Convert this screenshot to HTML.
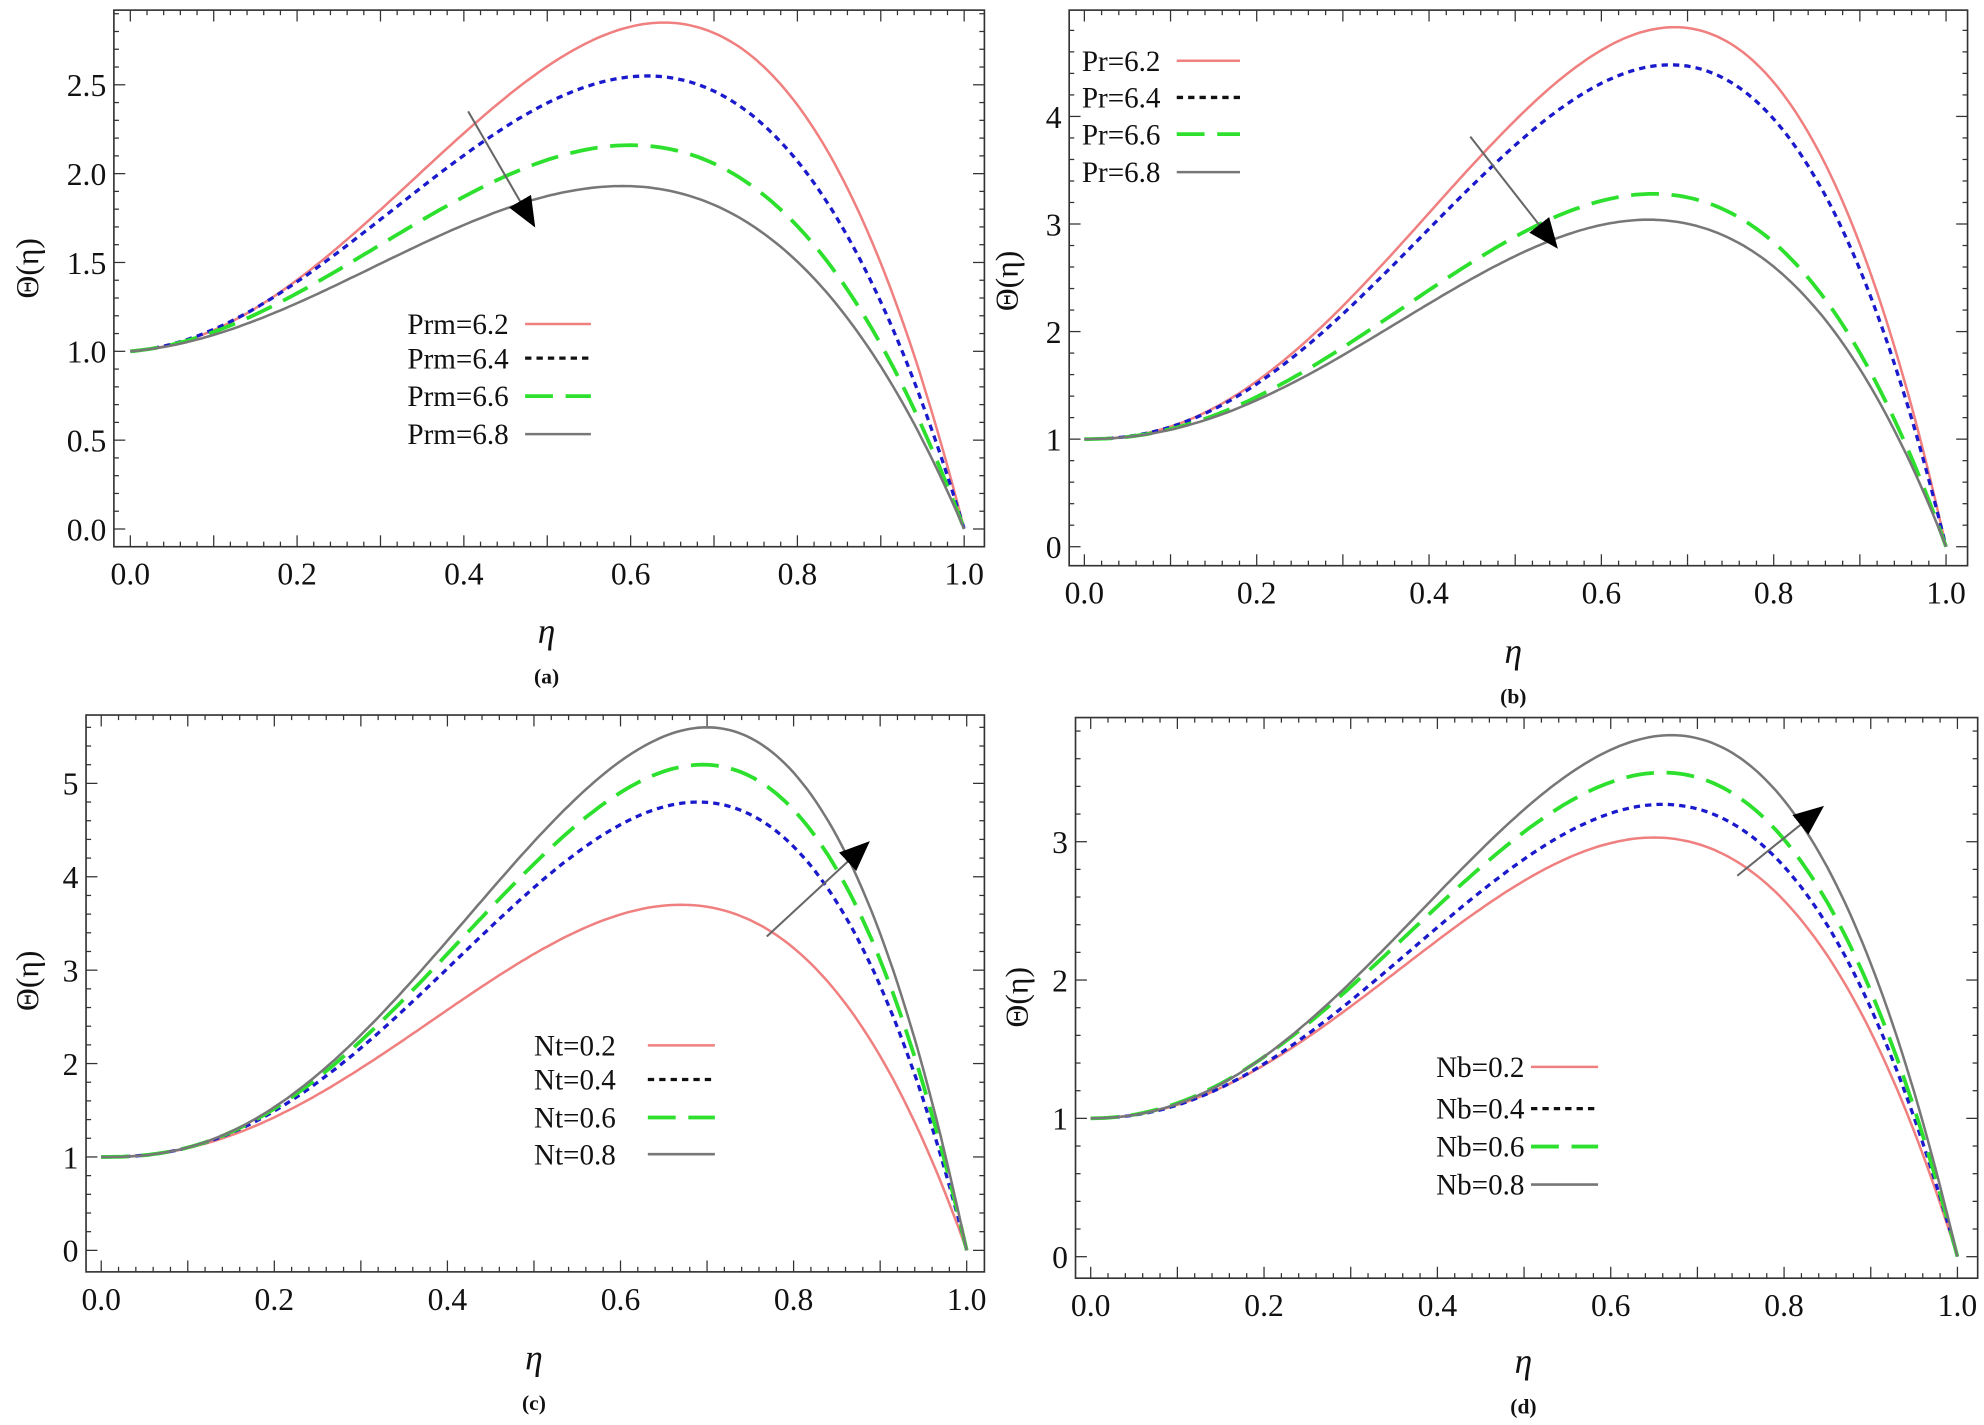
<!DOCTYPE html>
<html><head><meta charset="utf-8"><style>
html,body{margin:0;padding:0;background:#fff;}
svg{display:block;}
text{font-family:"Liberation Serif",serif;fill:#111;}
</style></head><body>
<svg id="s" width="1984" height="1425" viewBox="0 0 1568 1126" preserveAspectRatio="none" xmlns="http://www.w3.org/2000/svg">
<defs>
<marker id="ah2" markerWidth="24" markerHeight="20" refX="22" refY="10" orient="auto" markerUnits="userSpaceOnUse" viewBox="0 0 24 20"><path d="M0,0 L24,10 L0,20 z" fill="#000"/></marker></defs>
<g id="g"></g>
</svg>
<script>
var NS="http://www.w3.org/2000/svg",G=document.getElementById("g");
function el(t,a,txt){var e=document.createElementNS(NS,t);for(var k in a)e.setAttribute(k,a[k]);if(txt!=null)e.textContent=txt;G.appendChild(e);return e;}
function fit(p,v,b){
 function kf(n){var d=n*(1-p)-p;if(d<=0)return null;return (1-b+2*b*p)/(Math.pow(p,n-1)*d);}
 function val(n){var k=kf(n);if(k==null)return 1e9;return (1-p)*(1+b*p+k*Math.pow(p,n));}
 var lo=1.01,hi=40,i,m;
 for(i=0;i<80;i++){m=(lo+hi)/2;if(val(m)>v)lo=m;else hi=m;}
 var n=(lo+hi)/2;
 if(Math.abs(val(n)-v)>0.05){lo=1.01;hi=40;for(i=0;i<80;i++){m=(lo+hi)/2;if(val(m)<v)lo=m;else hi=m;}n=(lo+hi)/2;}
 var k=kf(n);return function(x){return (1-x)*(1+b*x+k*Math.pow(x,n));};}
var styles=[{s:"#f08080",w:2,d:""},{s:"#1a1acc",w:2.6,d:"5,4"},{s:"#2ee02e",w:3,d:"22,10"},{s:"#777",w:2,d:""}];
function panel(P){
 var f=P.frame;el("rect",{x:f[0],y:f[1],width:f[2]-f[0],height:f[3]-f[1],fill:"none",stroke:"#333","stroke-width":1.3});
 var X=function(x){return P.x0+(P.x1-P.x0)*x},Y=function(y){return P.y0-P.ys*y};
 for(var i=0;i<=50;i++){var x=i/50,px=X(x),L=(i%5==0)?9:4;
  el("line",{x1:px,y1:f[3],x2:px,y2:f[3]-L,stroke:"#333","stroke-width":1});
  el("line",{x1:px,y1:f[1],x2:px,y2:f[1]+L,stroke:"#333","stroke-width":1});
  if(i%10==0)el("text",{x:px,y:f[3]+30,"font-size":25,"text-anchor":"middle"},x.toFixed(1));}
 for(var j=0;j<P.yt.length;j++){var yv=P.yt[j],py=Y(yv);
  el("line",{x1:f[0],y1:py,x2:f[0]+9,y2:py,stroke:"#333"});el("line",{x1:f[2],y1:py,x2:f[2]-9,y2:py,stroke:"#333"});
  el("text",{x:f[0]-6,y:py+9,"font-size":25,"text-anchor":"end"},P.yl[j]);
  var step=P.ym;for(var q=1;q<5;q++){var yy=Y(yv+step*q/5);if(yy>f[1]&&yy<f[3]){el("line",{x1:f[0],y1:yy,x2:f[0]+4,y2:yy,stroke:"#333"});el("line",{x1:f[2],y1:yy,x2:f[2]-4,y2:yy,stroke:"#333"});}}}
 el("text",{x:0,y:0,"font-size":25,transform:"translate("+P.lab[0]+","+P.lab[1]+") rotate(-90)","text-anchor":"middle"},"Θ(η)");
 el("text",{x:P.eta[0],y:P.eta[1],"font-size":28,"font-style":"italic","text-anchor":"middle"},"η");
 el("text",{x:P.eta[0],y:P.eta[1]+32,"font-size":17,"font-weight":"bold","text-anchor":"middle"},P.tag);
 for(var c=0;c<4;c++){var fn=fit(P.pk[c][0],P.pk[c][1],P.b),d="";
  for(var t=0;t<=200;t++){var x=t/200;d+=(t?"L":"M")+X(x).toFixed(1)+","+Y(fn(x)).toFixed(1);}
  var st=styles[c];el("path",{d:d,fill:"none",stroke:st.s,"stroke-width":st.w,"stroke-dasharray":st.d});}
 for(c=0;c<4;c++){var ly=P.leg.y[c],st2=styles[c];
  el("text",{x:P.leg.x,y:ly+8,"font-size":23},P.leg.n[c]);
  el("line",{x1:P.leg.l0,y1:ly,x2:P.leg.l1,y2:ly,stroke:c==1?"#111":st2.s,"stroke-width":st2.w,"stroke-dasharray":st2.d});}
 el("line",{x1:P.ar[0],y1:P.ar[1],x2:P.ar[2],y2:P.ar[3],stroke:"#666","stroke-width":1.6,"marker-end":"url(#ah2)"});
}
panel({frame:[90,8,778,432],x0:103,x1:762,y0:418,ys:140.4,yt:[0,0.5,1,1.5,2,2.5],yl:["0.0","0.5","1.0","1.5","2.0","2.5"],ym:0.5,b:1.4,
 lab:[30,212],eta:[432,508],tag:"(a)",pk:[[0.64,2.85],[0.62,2.55],[0.6,2.16],[0.59,1.93]],
 leg:{x:322,l0:415,l1:467,y:[256,283,313,343],n:["Prm=6.2","Prm=6.4","Prm=6.6","Prm=6.8"]},ar:[370,88,422,178]});
panel({frame:[845,8,1555,447],x0:857,x1:1538,y0:432,ys:85,yt:[0,1,2,3,4],yl:["0","1","2","3","4"],ym:1,b:1.05,
 lab:[804,222],eta:[1196,524],tag:"(b)",pk:[[0.685,4.83],[0.68,4.48],[0.66,3.28],[0.655,3.04]],
 leg:{x:855,l0:930,l1:980,y:[48,77,106,136],n:["Pr=6.2","Pr=6.4","Pr=6.6","Pr=6.8"]},ar:[1162,108,1230,195]});
panel({frame:[68,565,778,1005],x0:80,x1:764,y0:988,ys:73.8,yt:[0,1,2,3,4,5],yl:["0","1","2","3","4","5"],ym:1,b:1.0,
 lab:[30,775],eta:[422,1082],tag:"(c)",pk:[[0.67,3.7],[0.69,4.8],[0.695,5.2],[0.70,5.6]],
 leg:{x:422,l0:512,l1:565,y:[826,853,883,912],n:["Nt=0.2","Nt=0.4","Nt=0.6","Nt=0.8"]},ar:[606,740,686,666]});
panel({frame:[850,567,1563,1010],x0:862,x1:1547,y0:993,ys:109.3,yt:[0,1,2,3],yl:["0","1","2","3"],ym:1,b:1.1,
 lab:[812,788],eta:[1204,1085],tag:"(d)",pk:[[0.65,3.03],[0.66,3.27],[0.66,3.5],[0.67,3.77]],
 leg:{x:1135,l0:1210,l1:1263,y:[843,876,906,936],n:["Nb=0.2","Nb=0.4","Nb=0.6","Nb=0.8"]},ar:[1373,692,1440,638]});
</script>
</body></html>
